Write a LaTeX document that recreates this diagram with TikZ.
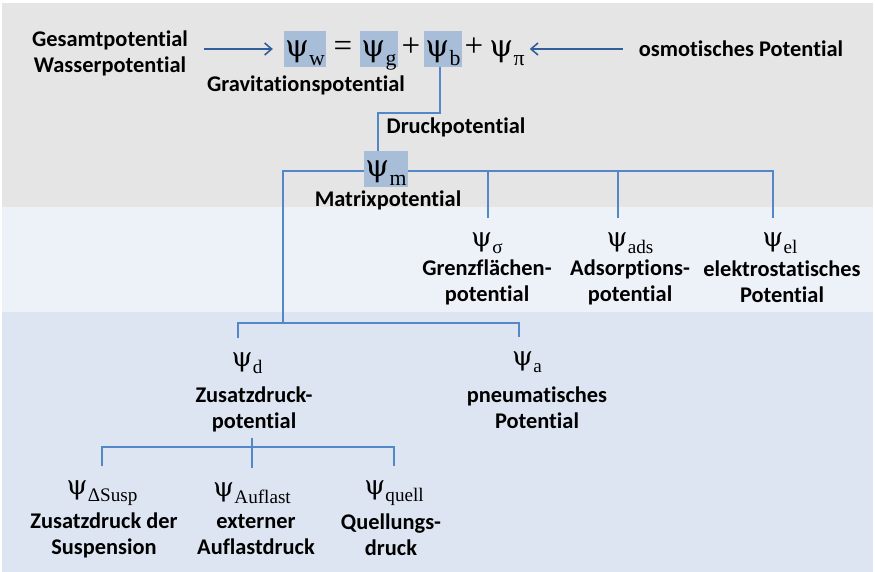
\documentclass[tikz,border=0pt]{standalone}
\usepackage{fontspec}
\setmainfont{Carlito}[Ligatures=NoCommon]
\newfontfamily\psifont{Liberation Serif}
\newfontfamily\psiglyph{DejaVu Serif}
\usetikzlibrary{positioning,calc,arrows.meta}
\definecolor{bandgray}{RGB}{229,229,229}
\definecolor{bandpale}{RGB}{237,241,248}
\definecolor{bandblue}{RGB}{220,229,241}
\definecolor{boxblue}{RGB}{167,189,216}
\definecolor{linkblue}{RGB}{84,135,200}
\definecolor{arrowblue}{RGB}{50,95,155}

\newcommand{\psiof}[1]{{\psiglyph\scalebox{.92}{ψ}}{\psifont\kern.01em\raisebox{-.26em}{\scalebox{.66}{#1}}}}

\begin{document}
\begin{tikzpicture}[x=1pt,y=-1pt,
  lbl/.style={font=\bfseries\fontsize{22.4}{26}\selectfont,align=center,inner sep=0pt},
  term/.style={font=\psifont\fontsize{33}{33}\selectfont,inner xsep=1pt,inner ysep=0pt,text height=26pt,text depth=10pt},
  hl/.style={term,fill=boxblue},
  pot/.style={font=\fontsize{29}{29}\selectfont,inner sep=0pt,outer ysep=14pt},
  link/.style={draw=linkblue,line width=1.6pt},
  arr/.style={draw=arrowblue,line width=1.6pt,-{Straight Barb[length=7pt,width=12pt]}}]
\useasboundingbox (0,0) rectangle (875,572);
\fill[bandgray] (2,3) rectangle (873,207);
\fill[bandpale] (2,207) rectangle (873,312);
\fill[bandblue] (2,312) rectangle (873,572);

\node[hl] (psiw) at (305,49) {\psiof{w}};
\node[term] (eq) at (343,49) {=};
\node[hl] (psig) at (379,49) {\psiof{g}};
\node[term] (plusa) at (411,49) {+};
\node[hl] (psib) at (443,49) {\psiof{b}};
\node[term] (plusb) at (474,49) {+};
\node[term] (psipi) at (507,49) {\psiof{π}};

\node[lbl] (gesamt) at (110,53) {Gesamtpotential\\Wasserpotential};
\node[lbl] (osmo) at (741,49) {osmotisches Potential};
\node[lbl] (gravi) at (306,85) {Gravitationspotential};
\node[lbl] (druck) at (456,127) {Druckpotential};

\node[hl] (psim) at (386,169) {\psiof{m}};
\node[lbl] (matrix) at (388,200) {Matrixpotential};

\node[pot] (psisig) at (487,243) {\psiof{σ}};
\node[lbl] (grenz) at (487,282) {Grenzflächen-\\potential};
\node[pot] (psiads) at (630,243) {\psiof{ads}};
\node[lbl] (adsorp) at (630,282) {Adsorptions-\\potential};
\node[pot] (psiel) at (780,243) {\psiof{el}};
\node[lbl] (elektro) at (782,282) {elektrostatisches\\Potential};

\node[pot] (psid) at (247,363) {\psiof{d}};
\node[lbl] (zusatz) at (254,409) {Zusatzdruck-\\potential};
\node[pot] (psia) at (527,362) {\psiof{a}};
\node[lbl] (pneu) at (537,408) {pneumatisches\\Potential};

\node[pot] (psisusp) at (102,493) {\psiof{ΔSusp}};
\node[lbl] (susp) at (104,535) {Zusatzdruck der\\Suspension};
\node[pot] (psiauf) at (252,493) {\psiof{Auflast}};
\node[lbl] (auflast) at (256,535) {externer\\Auflastdruck};
\node[pot] (psiquell) at (394,493) {\psiof{quell}};
\node[lbl] (quell) at (391,535) {Quellungs-\\druck};

\draw[arr,shorten <=16pt,shorten >=11pt] (gesamt.east |- psiw.west) -- (psiw.west);
\draw[arr,shorten <=16pt,shorten >=4pt] (osmo.west) -- (psipi.east |- osmo.west);

\draw[link] ([xshift=-3pt]psib.south) -- ++(0,46) -| ([xshift=-8pt]psim.north);

\draw[link] ([yshift=-2pt]psim.east) -| ([xshift=-7pt]psiel.north);
\draw[link] ([xshift=1pt]psisig.north) -- ([xshift=1pt,yshift=-2pt]psisig.north |- psim.east);
\draw[link] ([xshift=-12pt]psiads.north) -- ([xshift=-12pt,yshift=-2pt]psiads.north |- psim.east);

\coordinate (splitd) at (283,323);
\draw[link] ([yshift=-2pt]psim.west) -| (splitd);
\draw[link] ([xshift=-9pt]psid.north) |- (splitd) -| ([xshift=-8pt]psia.north);

\coordinate (splitq) at (252,447);
\draw[link] ([yshift=-6pt]zusatz.south -| psiauf.north) -- (psiauf.north);
\draw[link] (psisusp.north) |- (splitq) -| (psiquell.north);
\end{tikzpicture}
\end{document}
